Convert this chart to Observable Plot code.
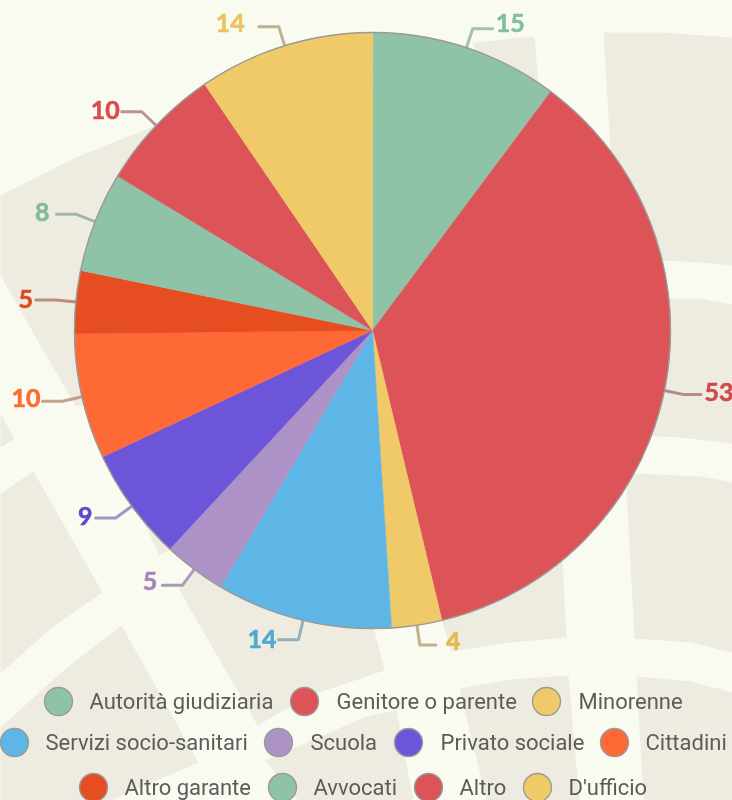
<!DOCTYPE html>
<html><head><meta charset="utf-8">
<style>html,body{margin:0;padding:0;background:#fafbf0}</style>
<script src="https://cdn.jsdelivr.net/npm/d3@7"></script>
<script src="https://cdn.jsdelivr.net/npm/@observablehq/plot@0.6"></script>
</head><body><div id="chart"></div>
<script>
// Chart data
const categories = ["Autorità giudiziaria","Genitore o parente","Minorenne","Servizi socio-sanitari","Scuola","Privato sociale","Cittadini","Altro garante","Avvocati","Altro","D'ufficio"];
const values = [15,53,4,14,5,9,10,5,8,10,14];
const sliceColors = ["#8ec3a8","#dc5457","#f0ca69","#5eb6e6","#ac92c6","#6d55da","#ff6935","#e64e21","#8ec3a8","#dc5457","#f0ca69"];
const labelColors = ["#82bf9d","#d04a4e","#e6b94f","#50a9d0","#a487ba","#5e48cf","#fb6a33","#dc4a1f","#82bb9a","#d94c50","#ecc25f"];
const leaderColors = ["#a6bfb1","#b58a8c","#bdb28a","#93b0bc","#a89cb4","#9d97c4","#c4a08f","#b98c7e","#a5b5a9","#b89294","#bfb38e"];
// Layout of the labels and legend (pixels)
const labelGaps = [3,3.5,10,2,5,3,2,3,7,2,14];
const labelShifts = [-5,-2,-3,0,-3,-1,-2.5,0,-1,-1,-3];
const leaderRuns = [20,17,16,20,20,20,20,20,20,20,20];
const legendDotX = [58,304,546,14,278,408,614,93,282,428,537];
const legendTextX = [89,336,578,45,310,440,645,124,313,459,568];
const legendY = [701,701,701,742,742,742,742,787,787,787,787];
// Decorative street-map background: blocks as vertex lists
const mapBlocks = [
  [[0,195],[75,157],[155,125],[372,125],[372,400],[75,405],[37,340],[0,275]],
  [[0,413],[14,438],[0,447]],
  [[0,493],[33,471],[102,592],[50,628],[0,673]],
  [[121,625],[198,762],[110,800],[0,800],[0,727],[63,670]],
  [[143,521],[159,555],[170,549],[165,510]],
  [[178,588],[257,725],[310,695],[384,670],[374,630],[372,400]],
  [[265,760],[366,716],[396,710],[413,800],[297,800]],
  [[459,688],[510,679],[568,675],[579,800],[486,800]],
  [[636,676],[690,681],[732,692],[732,800],[643,800]],
  [[441,620],[451,651],[510,642],[566,637],[562,560],[500,520]],
  [[636,473],[700,476],[732,482],[732,652],[690,642],[634,638],[626,487]],
  [[640,298],[700,298],[732,304],[732,443],[680,437],[640,435]],
  [[603,32],[660,32],[732,37],[732,265],[700,262],[660,260],[610,150]],
  [[473,42],[534,36],[538,85],[480,80]]
];
const cx = 372, cy = 330, R = 298, elbow = 20;

const polar = (a, r) => [cx + r * Math.sin(a), cy - r * Math.cos(a)];
const arcs = d3.pie().sort(null)(values);

const blockPoints = mapBlocks.flatMap((b, i) => b.map(([x, y]) => ({block: i, x, y})));

const wedgePoints = arcs.flatMap((a, i) => {
  const n = Math.ceil((a.endAngle - a.startAngle) / 0.01);
  const pts = [{category: categories[i], x: cx, y: cy}];
  for (let k = 0; k <= n; ++k) {
    const [x, y] = polar(a.startAngle + (a.endAngle - a.startAngle) * k / n, R);
    pts.push({category: categories[i], x, y});
  }
  return pts;
});

const leaders = arcs.flatMap((a, i) => {
  const m = (a.startAngle + a.endAngle) / 2;
  const [x0, y0] = polar(m, R);
  const [x1, y1] = polar(m, R + elbow);
  const dir = Math.sin(m) >= 0 ? 1 : -1;
  return [[x0, y0], [x1, y1], [x1 + dir * leaderRuns[i], y1]].map(([x, y]) => ({i, x, y, c: leaderColors[i]}));
});

const labels = arcs.map((a, i) => {
  const m = (a.startAngle + a.endAngle) / 2;
  const [x1, y1] = polar(m, R + elbow);
  const dir = Math.sin(m) >= 0 ? 1 : -1;
  return {x: x1 + dir * (leaderRuns[i] + labelGaps[i]), y: y1 + labelShifts[i], text: String(values[i]), c: labelColors[i], anchor: dir > 0 ? "start" : "end"};
});

const legend = categories.map((c, i) => ({category: c, dx: legendDotX[i], tx: legendTextX[i], y: legendY[i]}));

const plot = Plot.plot({
  width: 732, height: 800, margin: 0,
  x: {domain: [0, 732], range: [0, 732], axis: null},
  y: {domain: [0, 800], range: [0, 800], axis: null},
  color: {type: "ordinal", domain: categories, range: sliceColors},
  style: {background: "#fafbf0"},
  marks: [
    Plot.line(blockPoints, {x: "x", y: "y", z: "block", fill: "#eeece0", stroke: "none", curve: "linear-closed"}),
    Plot.line(leaders, {x: "x", y: "y", z: "i", stroke: d => d.c, strokeWidth: 3, strokeLinejoin: "round", imageFilter: "blur(0.4px)"}),
    Plot.line(wedgePoints, {x: "x", y: "y", z: "category", fill: "category", stroke: "category", strokeWidth: 0.5, curve: "linear-closed"}),
    Plot.dot([{x: cx, y: cy}], {x: "x", y: "y", r: R, fill: "none", stroke: "#9b9b96", strokeWidth: 1.4}),
    ...["start", "end"].map(anchor => Plot.text(labels.filter(d => d.anchor === anchor), {
      x: "x", y: "y", text: "text", fill: d => d.c, stroke: d => d.c, strokeWidth: 0.6, textAnchor: anchor, lineAnchor: "middle",
      fontFamily: "Lato", fontWeight: 700, fontSize: 25, imageFilter: "blur(0.4px)"
    })),
    Plot.dot(legend, {x: "dx", y: "y", r: 14, fill: "category", stroke: "#9b9b96", strokeWidth: 1.4, imageFilter: "blur(0.4px)"}),
    Plot.text(legend, {x: "tx", y: "y", text: "category", fill: "#5c5c5c", textAnchor: "start", lineAnchor: "middle",
      fontFamily: "Roboto", fontSize: 22, imageFilter: "blur(0.7px)"})
  ]
});
document.getElementById("chart").appendChild(plot);
</script></body></html>
